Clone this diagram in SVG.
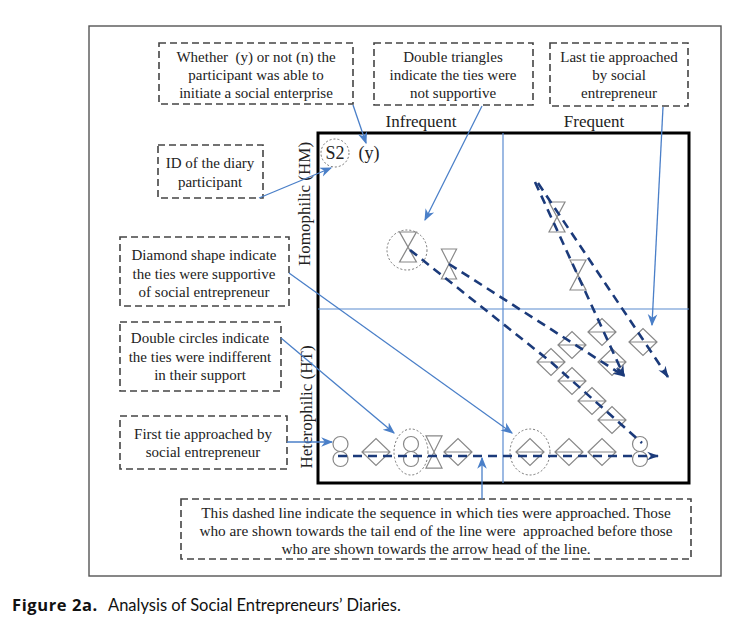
<svg xmlns="http://www.w3.org/2000/svg" width="755" height="634" viewBox="0 0 755 634">
<style>
.frame{fill:none;stroke:#555;stroke-width:1.4}
.plot{fill:none;stroke:#000;stroke-width:3}
.div{stroke:#5b8bd0;stroke-width:1.2;fill:none}
.box{fill:#fff;stroke:#444;stroke-width:1.6;stroke-dasharray:7 4}
.t{font-family:"Liberation Serif","Times New Roman",serif;font-size:15px;fill:#222;text-anchor:middle}
.ax{font-family:"Liberation Serif","Times New Roman",serif;font-size:17px;fill:#222;text-anchor:middle}
.bt{font-family:"Liberation Serif","Times New Roman",serif;font-size:15.3px;fill:#222;text-anchor:middle}
.shape{fill:none;stroke:#888;stroke-width:1.2}
.dot{fill:none;stroke:#666;stroke-width:0.9;stroke-dasharray:2 2}
.blue{fill:none;stroke:#4a7fc8;stroke-width:1.3;marker-end:url(#ab)}
.seq{fill:none;stroke:#1b3a7a;stroke-width:2.6;stroke-dasharray:9 6}
.cap{font-family:Lato,"Liberation Sans",sans-serif;font-size:16.5px;fill:#111}
.capb{font-family:"Open Sans","Liberation Sans",sans-serif;font-size:16.5px;font-weight:bold;letter-spacing:0.6px;fill:#111}
</style>
<defs>
<marker id="ab" viewBox="0 0 10 10" refX="9" refY="5" markerWidth="12" markerHeight="12" markerUnits="userSpaceOnUse" orient="auto"><path d="M0,1 L10,5 L0,9 L3,5 z" fill="#4a7fc8"/></marker>
<marker id="an" viewBox="0 0 10 10" refX="9" refY="5" markerWidth="12" markerHeight="12" markerUnits="userSpaceOnUse" orient="auto"><path d="M0,1.5 L10,5 L0,8.5 L3,5 z" fill="#1b3a7a"/></marker>
<g id="dia"><path class="shape" d="M-14,0 L0,-13.5 L14,0 L0,13.5 Z M-14,0 H14"/></g>
<g id="hg"><path class="shape" d="M-8,-15 H8 L-8,15 H8 Z"/></g>
<g id="dc"><circle class="shape" cx="0" cy="-7.5" r="7.5"/><circle class="shape" cx="0" cy="7.5" r="7.5"/></g>
</defs>
<rect width="755" height="634" fill="#fff"/>
<rect class="frame" x="89" y="26" width="632" height="550"/>
<g id="plot">
<rect class="plot" x="318" y="133" width="371" height="350"/>
<line class="div" x1="503" y1="133" x2="503" y2="483"/>
<line class="div" x1="318" y1="309" x2="689" y2="309"/>
<text class="ax" x="421" y="127">Infrequent</text>
<text class="ax" x="594" y="127">Frequent</text>
<text class="ax" transform="translate(310,204) rotate(-90)">Homophilic (HM)</text>
<text class="ax" transform="translate(312,407) rotate(-90)">Heterophilic (HT)</text>
</g>
<g id="participant">
<circle class="dot" cx="335" cy="153" r="14"/>
<text class="ax" x="335" y="159" style="font-size:18px">S2</text>
<text class="ax" x="369" y="159" style="font-size:18px">(y)</text>
</g>
<g id="callout-whether"><rect class="box" x="159" y="43" width="194" height="61"/>
<text class="t" x="256" y="62" xml:space="preserve">Whether  (y) or not (n) the</text><text class="t" x="256" y="80">participant was able to</text><text class="t" x="256" y="98">initiate a social enterprise</text></g>
<g id="callout-triangles"><rect class="box" x="374" y="43" width="159" height="62"/>
<text class="t" x="453" y="62">Double triangles</text><text class="t" x="453" y="80">indicate the ties were</text><text class="t" x="453" y="98">not supportive</text></g>
<g id="callout-last"><rect class="box" x="550" y="43" width="138" height="63"/>
<text class="t" x="619" y="62">Last tie approached</text><text class="t" x="619" y="80">by social</text><text class="t" x="619" y="98">entrepreneur</text></g>
<g id="callout-id"><rect class="box" x="158" y="145" width="105" height="53"/>
<text class="t" x="210" y="168">ID of the diary</text><text class="t" x="210" y="187">participant</text></g>
<g id="callout-diamond"><rect class="box" x="120" y="237" width="169" height="69"/>
<text class="t" x="204" y="260">Diamond shape indicate</text><text class="t" x="204" y="279">the ties were supportive</text><text class="t" x="204" y="297">of social entrepreneur</text></g>
<g id="callout-circles"><rect class="box" x="120" y="322" width="161" height="69"/>
<text class="t" x="200" y="343">Double circles indicate</text><text class="t" x="200" y="362">the ties were indifferent</text><text class="t" x="200" y="380">in their support</text></g>
<g id="callout-first"><rect class="box" x="120" y="416" width="167" height="53"/>
<text class="t" x="203" y="439">First tie approached by</text><text class="t" x="203" y="457">social entrepreneur</text></g>
<g id="callout-sequence"><rect class="box" x="181" y="499" width="510" height="60"/>
<text class="bt" x="436" y="518">This dashed line indicate the sequence in which ties were approached. Those</text>
<text class="bt" x="436" y="536" xml:space="preserve">who are shown towards the tail end of the line were  approached before those</text>
<text class="bt" x="436" y="554">who are shown towards the arrow head of the line.</text></g>
<g id="tie-hm-1"><circle class="dot" cx="407" cy="250" r="20"/><use href="#hg" transform="translate(408,247) scale(1.05,1)"/></g>
<g id="tie-hm-2"><use href="#hg" transform="translate(449,264) scale(0.95,1)"/></g>
<g id="tie-hm-3"><use href="#hg" transform="translate(557,217)"/></g>
<g id="tie-hm-4"><use href="#hg" transform="translate(578,275)"/></g>
<g id="tie-ht-a"><use href="#dia" x="602" y="332"/></g>
<g id="tie-ht-b"><use href="#dia" x="572" y="345"/></g>
<g id="tie-ht-c"><use href="#dia" x="643" y="342"/></g>
<g id="tie-ht-d"><use href="#dia" x="551" y="362"/></g>
<g id="tie-ht-e"><use href="#dia" x="612" y="362"/></g>
<g id="tie-ht-f"><use href="#dia" x="572" y="381"/></g>
<g id="tie-ht-g"><use href="#dia" x="592" y="401"/></g>
<g id="tie-ht-h"><use href="#dia" x="612" y="420"/></g>
<g id="row-1"><use href="#dc" x="340.5" y="451.5"/></g>
<g id="row-2"><use href="#dia" x="376" y="452"/></g>
<g id="row-3"><ellipse class="dot" cx="411" cy="452" rx="17" ry="23"/><use href="#dc" x="411" y="451.5"/></g>
<g id="row-4"><use href="#hg" transform="translate(434,452) scale(1,1.07)"/></g>
<g id="row-5"><use href="#dia" x="458" y="452"/></g>
<g id="row-6"><ellipse class="dot" cx="530" cy="452" rx="20" ry="23"/><use href="#dia" x="530" y="452"/></g>
<g id="row-7"><use href="#dia" x="569" y="452"/></g>
<g id="row-8"><use href="#dia" x="602" y="452"/></g>
<g id="row-9"><use href="#dc" x="640" y="451.5"/></g>
<g id="connectors">
<polyline class="seq" points="410,250 551,362 642,443"/>
<line class="seq" x1="449" y1="264" x2="624" y2="376" marker-end="url(#an)"/>
<line class="seq" x1="535" y1="182" x2="624" y2="376" marker-end="url(#an)"/>
<line class="seq" x1="538" y1="183" x2="668" y2="377" marker-end="url(#an)"/>
<line class="seq" x1="338" y1="456" x2="658" y2="456" marker-end="url(#an)"/>
<line class="blue" x1="353" y1="105" x2="366" y2="143"/>
<line class="blue" x1="482" y1="106" x2="425" y2="220"/>
<line class="blue" x1="663" y1="107" x2="652" y2="325"/>
<line class="blue" x1="259" y1="198" x2="331" y2="168"/>
<line class="blue" x1="289" y1="273" x2="512" y2="433"/>
<line class="blue" x1="281" y1="338" x2="394" y2="433"/>
<line class="blue" x1="287" y1="442" x2="332" y2="442"/>
<line class="blue" x1="482" y1="499" x2="482" y2="458"/>
</g>
<text x="12" y="611"><tspan class="capb">Figure 2a.</tspan><tspan class="cap" x="108">Analysis of Social Entrepreneurs’ Diaries.</tspan></text>
</svg>
